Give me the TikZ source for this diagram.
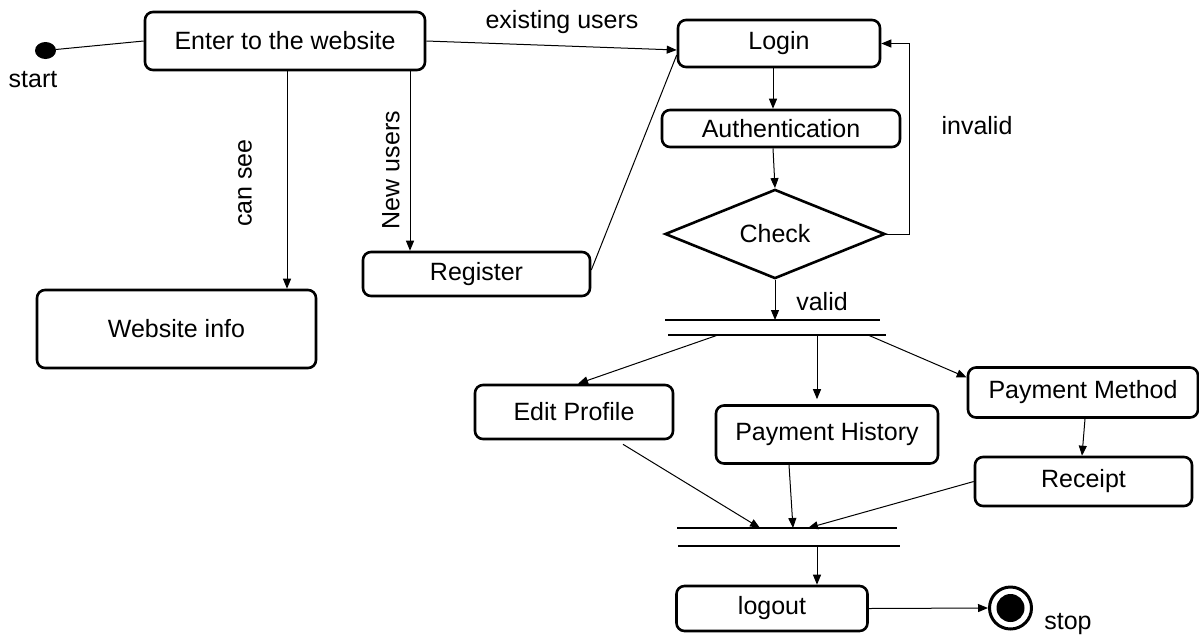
\documentclass[tikz,border=0pt]{standalone}
\usepackage{fontspec}
\setmainfont{Liberation Sans}
\usetikzlibrary{arrows.meta,shapes.geometric,calc}
\begin{document}
\begin{tikzpicture}[x=1pt,y=-1pt,
  box/.style={draw,line width=2.6pt,rounded corners=8pt,inner sep=0pt,font=\fontsize{25}{30}\selectfont},
  lbl/.style={font=\fontsize{25}{30}\selectfont,inner sep=0pt},
  arr/.style={line width=1pt,-{Triangle[length=10pt,width=8pt]}},
  ln/.style={line width=1pt},
  bar/.style={line width=1.6pt}]
\useasboundingbox (0,0) rectangle (1199,638);

% initial and final states
\node[fill=black,ellipse,minimum width=21pt,minimum height=17pt,inner sep=0pt] (start) at (45.5,50.5) {};
\node[lbl] (startl) at (33,80) {start};
\node[circle,draw,line width=3pt,minimum size=42pt,inner sep=0pt] (stop) at (1010.5,608) {};
\node[circle,fill=black,minimum size=28pt,inner sep=0pt] (stopin) at (1010.5,608) {};
\node[lbl] (stopl) at (1068,624) {stop};

% boxes
\node[box,minimum width=280pt,minimum height=58pt] (enter) at (285,41) {Enter to the website};
\node[box,minimum width=202pt,minimum height=47pt] (login) at (779,43.5) {Login};
\node[box,minimum width=238pt,minimum height=37pt] (auth) at (781,128.5) {Authentication};
\node[draw,diamond,line width=2.6pt,minimum width=220pt,minimum height=81pt,inner sep=0pt,font=\fontsize{25}{30}\selectfont] (check) at (775,234) {Check};
\node[box,minimum width=279pt,minimum height=78pt] (info) at (176.5,329) {Website info};
\node[box,minimum width=227pt,minimum height=44pt] (register) at (476.5,274) {Register};
\node[box,minimum width=198pt,minimum height=54pt] (edit) at (574,412) {Edit Profile};
\node[box,minimum width=222pt,minimum height=58pt] (hist) at (827,434.5) {Payment History};
\node[box,minimum width=230pt,minimum height=50pt] (method) at (1083,392.5) {Payment Method};
\node[box,minimum width=217pt,minimum height=49pt] (receipt) at (1083.5,481.5) {Receipt};
\node[box,minimum width=191pt,minimum height=45pt] (logout) at (772,608.5) {logout};

% labels
\node[lbl] (lexist) at (562,22) {existing users};
\node[lbl,rotate=90] (lsee) at (245,183) {can see};
\node[lbl,rotate=90] (lnew) at (391,170) {New users};
\node[lbl] (linvalid) at (977,126) {invalid};
\node[lbl] (lvalid) at (822,302) {valid};

% synchronisation bars
\coordinate (b1a) at (665,320); \coordinate (b1b) at (880,320);
\coordinate (b1c) at (668,335); \coordinate (b1d) at (886,335);
\coordinate (b2a) at (677,528); \coordinate (b2b) at (897,528);
\coordinate (b2c) at (678,546); \coordinate (b2d) at (900,546);
\draw[bar] (b1a) -- (b1b);
\draw[bar] (b1c) -- (b1d);
\draw[bar] (b2a) -- (b2b);
\draw[bar] (b2c) -- (b2d);

% connectors
\draw[ln] (start) -- (enter.west);
\draw[arr] (enter.east) -- ([yshift=-6.5pt]login.west);
\draw[arr] ($(enter.south)+(2,0)$) coordinate (s1) -- (s1 |- info.north);
\draw[arr] ($(enter.south)+(125,0)$) coordinate (s2) -- (s2 |- register.north);
\draw[ln] ([yshift=4pt]register.east) -- ([yshift=-11.5pt]login.west);
\draw[arr] ([xshift=-6pt]login.south) -- ([xshift=-8pt]auth.north);
\draw[arr] ([xshift=-8pt]auth.south) -- (check.north);
\draw[arr] (check.east) -- ++(23,0) |- (login.east);
\draw[arr] (check.south) -- (check.south |- b1a);
\draw[arr] (b1c -| 718,0) -- ([xshift=4pt]edit.north);
\draw[arr,shorten >=5pt] (b1c -| 817,0) -- (hist.north -| 817,0);
\draw[arr] (b1c -| 868,0) -- ([yshift=15pt]method.west);
\draw[arr] ([xshift=2pt]method.south) -- ([xshift=-1.5pt]receipt.north);
\draw[arr] ([xshift=49pt,yshift=-4pt]edit.south) -- (b2a -| 760,0);
\draw[arr] ([xshift=-38pt]hist.south) -- (b2a -| 793,0);
\draw[arr] (receipt.west) -- (b2a -| 808,0);
\draw[arr] (b2c -| 817,0) -- (logout.north -| 817,0);
\draw[arr] (logout.east) -- (stop.west);
\end{tikzpicture}
\end{document}
